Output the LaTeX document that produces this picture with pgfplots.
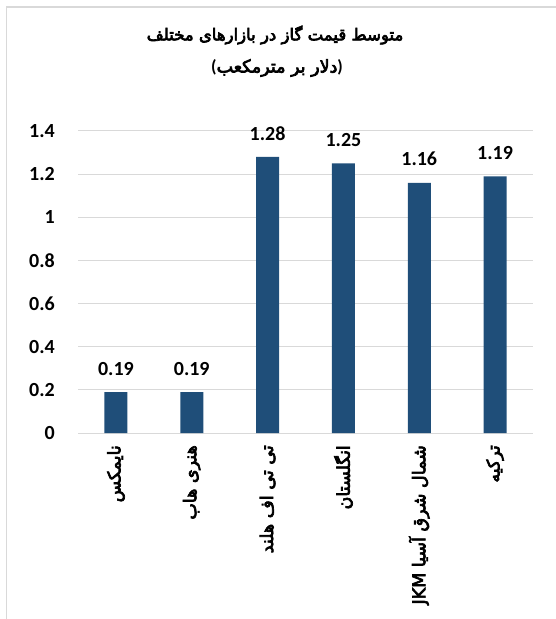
\documentclass[border=0pt]{standalone}
\usepackage{fontspec}
\setmainfont{Carlito}
\newfontfamily\arabicfont[Script=Arabic, FakeBold=4]{DejaVu Sans}
\TeXXeTstate=1
\usepackage{pgfplots}
\pgfplotsset{compat=1.18}
\definecolor{barblue}{RGB}{31,78,121}
\definecolor{gridgray}{RGB}{217,217,217}
\begin{document}
\begin{tikzpicture}
\path[use as bounding box] (0pt,0pt) rectangle (556pt,619pt);
\draw[gridgray, line width=1.5pt] (6.5pt,0pt) -- (6.5pt,612pt) -- (556pt,612pt);
\node[font=\fontsize{16.5}{19}\selectfont] at (275pt,584pt) {\arabicfont\beginR متوسط قیمت گاز در بازارهای مختلف\endR};
\node[font=\fontsize{17.5}{20}\selectfont] at (277pt,551pt) {{\bfseries(}\arabicfont\beginR دلار بر مترمکعب\endR{\normalfont\bfseries)}};
\begin{axis}[
    at={(78pt,186pt)}, anchor=south west,
    width=455pt, height=302pt, scale only axis,
    xmin=-0.5, xmax=5.5,
    ymin=0, ymax=1.4,
    ytick={0,0.2,0.4,0.6,0.8,1,1.2,1.4},
    xtick={0,1,2,3,4,5},
    xticklabels={
        {\arabicfont\beginR نایمکس\endR},
        {\arabicfont\beginR هنری هاب\endR},
        {\arabicfont\beginR تی تی اف هلند\endR},
        {\arabicfont\beginR انگلستان\endR},
        {\arabicfont\beginR شمال شرق آسیا \beginL JKM\endL\endR},
        {\arabicfont\beginR ترکیه\endR}},
    axis line style={draw=none},
    ymajorgrids=true,
    grid style={gridgray, line width=1pt},
    major tick length=0pt,
    ytick style={draw=none}, xtick style={draw=none},
    yticklabel style={font=\fontsize{20}{24}\selectfont\bfseries, anchor=east, inner sep=0pt},
    yticklabel shift=23pt,
    xticklabel style={font=\fontsize{17.5}{20}\selectfont, rotate=90, anchor=east, inner sep=0pt},
    xticklabel shift=12pt,
    /pgf/number format/assume math mode=true,
    ybar, bar width=23pt,
    nodes near coords={\pgfmathprintnumber[fixed,fixed zerofill,precision=2,assume math mode=true]{\pgfplotspointmeta}},
    every node near coord/.append style={font=\fontsize{20}{24}\selectfont\bfseries, anchor=south, inner sep=0pt, yshift=16.5pt},
]
\addplot[fill=barblue, draw=none] coordinates {
    (0,0.19) (1,0.19) (2,1.28) (3,1.25) (4,1.16) (5,1.19)
};
\end{axis}
\end{tikzpicture}
\end{document}
